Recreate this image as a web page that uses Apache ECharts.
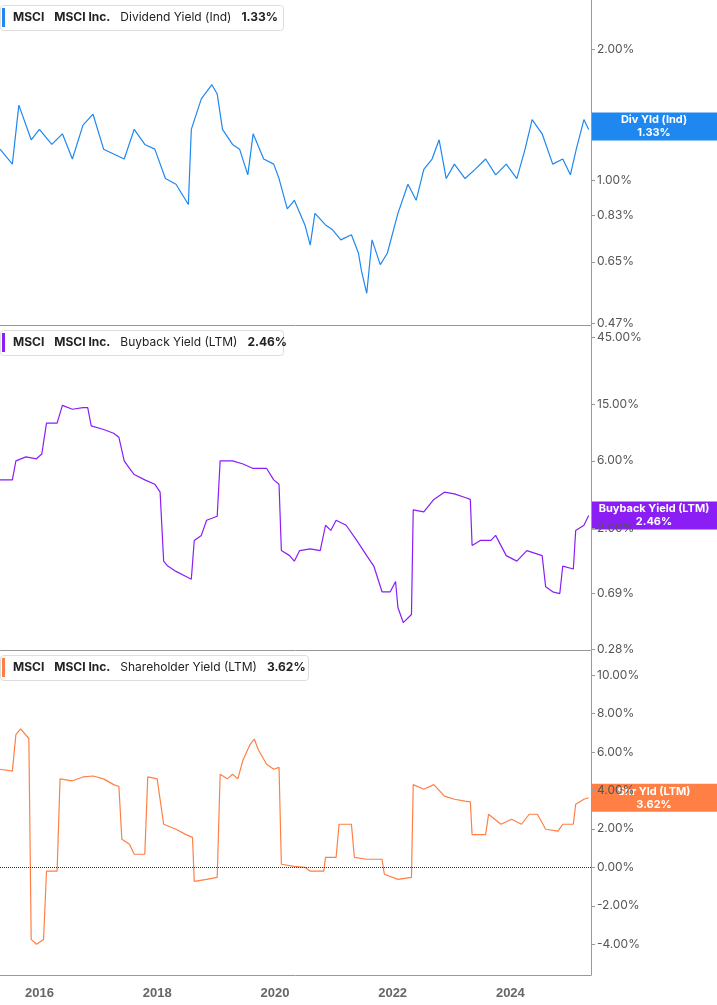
<!DOCTYPE html>
<html><head><meta charset="utf-8">
<script src="https://cdn.jsdelivr.net/npm/echarts@6/dist/echarts.min.js"></script>
<style>html,body{margin:0;padding:0;background:#fff}#c{width:717px;height:1005px}</style>
</head><body><div id="c"></div>
<script>
// decimal years
const divX=[2015.33,2015.54,2015.65,2015.86,2016.0,2016.21,2016.39,2016.56,2016.74,2016.91,2017.09,2017.26,2017.44,2017.61,2017.79,2017.96,2018.14,2018.32,2018.53,2018.58,2018.75,2018.93,2019.02,2019.11,2019.28,2019.40,2019.54,2019.63,2019.81,2019.98,2020.07,2020.21,2020.33,2020.51,2020.60,2020.68,2020.86,2020.98,2021.12,2021.30,2021.42,2021.47,2021.56,2021.65,2021.79,2021.91,2022.09,2022.26,2022.40,2022.53,2022.67,2022.79,2022.91,2023.05,2023.23,2023.40,2023.58,2023.75,2023.93,2024.11,2024.25,2024.37,2024.54,2024.72,2024.89,2025.02,2025.12,2025.25,2025.33];
const divY=[1.18,1.09,1.49,1.24,1.31,1.21,1.28,1.12,1.34,1.42,1.18,1.15,1.12,1.31,1.21,1.18,1.01,0.98,0.88,1.31,1.54,1.66,1.58,1.31,1.21,1.18,1.03,1.28,1.12,1.09,1.01,0.86,0.90,0.79,0.71,0.84,0.79,0.77,0.73,0.75,0.68,0.62,0.55,0.73,0.64,0.68,0.84,0.98,0.90,1.06,1.12,1.24,1.01,1.09,1.01,1.06,1.12,1.03,1.09,1.01,1.18,1.38,1.28,1.09,1.12,1.03,1.18,1.38,1.31];
const bbX=[2015.33,2015.54,2015.60,2015.77,2015.95,2016.04,2016.12,2016.30,2016.39,2016.56,2016.74,2016.82,2016.88,2017.09,2017.26,2017.35,2017.44,2017.53,2017.61,2017.79,2017.96,2018.05,2018.11,2018.18,2018.32,2018.49,2018.58,2018.63,2018.75,2018.84,2019.02,2019.07,2019.28,2019.46,2019.63,2019.86,2019.98,2020.07,2020.11,2020.25,2020.33,2020.42,2020.60,2020.77,2020.86,2020.95,2021.04,2021.21,2021.39,2021.56,2021.68,2021.82,2021.96,2022.05,2022.09,2022.18,2022.32,2022.35,2022.53,2022.70,2022.88,2023.05,2023.23,2023.32,2023.35,2023.49,2023.67,2023.75,2023.93,2024.11,2024.28,2024.54,2024.60,2024.72,2024.84,2024.89,2025.07,2025.11,2025.25,2025.33];
const bbY=[4.4,4.4,6.0,6.4,6.2,6.7,11.1,11.1,14.8,13.9,14.3,14.3,10.6,10.0,9.4,8.8,6.0,5.3,4.8,4.4,4.1,3.6,1.17,1.08,0.99,0.91,0.87,1.64,1.78,2.28,2.43,6.0,6.0,5.7,5.3,5.3,4.4,4.1,1.39,1.28,1.17,1.39,1.43,1.39,2.10,1.93,2.28,2.10,1.64,1.28,1.08,0.71,0.71,0.84,0.55,0.43,0.49,2.70,2.61,3.2,3.6,3.5,3.3,3.2,1.51,1.64,1.64,1.78,1.28,1.17,1.39,1.28,0.77,0.71,0.69,1.08,1.03,1.93,2.10,2.46];
const shX=[2015.33,2015.54,2015.60,2015.68,2015.82,2015.86,2015.95,2016.07,2016.12,2016.30,2016.35,2016.56,2016.74,2016.91,2017.09,2017.26,2017.35,2017.40,2017.53,2017.61,2017.79,2017.84,2018.00,2018.11,2018.32,2018.49,2018.60,2018.63,2018.84,2019.02,2019.07,2019.19,2019.28,2019.37,2019.46,2019.58,2019.65,2019.72,2019.86,2019.98,2020.07,2020.11,2020.33,2020.51,2020.60,2020.83,2020.86,2021.04,2021.09,2021.30,2021.35,2021.56,2021.82,2021.86,2022.09,2022.32,2022.35,2022.53,2022.70,2022.88,2023.05,2023.23,2023.32,2023.35,2023.58,2023.63,2023.84,2024.02,2024.19,2024.32,2024.46,2024.60,2024.81,2024.89,2025.07,2025.11,2025.25,2025.33];
const shY=[5.1,5.0,6.9,7.2,6.7,-3.75,-4.0,-3.75,-0.2,-0.2,4.6,4.5,4.7,4.75,4.6,4.3,4.2,1.46,1.2,0.68,0.68,4.7,4.6,2.24,1.98,1.7,1.56,-0.73,-0.63,-0.52,4.84,4.6,4.84,4.6,5.6,6.4,6.67,6.1,5.36,5.1,5.2,0.16,0.05,0.0,-0.2,-0.2,0.52,0.52,2.24,2.24,0.52,0.42,0.42,-0.36,-0.63,-0.52,4.3,4.06,4.3,3.7,3.54,3.44,3.4,1.7,1.7,2.76,2.24,2.5,2.24,2.76,2.76,1.98,1.88,2.24,2.24,3.28,3.54,3.62];
const years=[2016,2018,2020,2022,2024];
const divTicks=[0.47,0.65,0.83,1.00,2.00];
const bbTicks=[0.28,0.69,2.00,6.00,15.00,45.00];
const shTicks=[-4,-2,0,2,4,6,8,10];

const C1='#1e88f0',C2='#8a1ef5',C3='#ff7f45';
const L=Math.log10;
const zip=(xs,ys,f)=>xs.map((x,i)=>[x,f?f(ys[i]):ys[i]]);
const lab={color:'#555',fontSize:12,fontFamily:'Inter, sans-serif'};
function xa(i,show){return {type:'value',gridIndex:i,min:2015.33,max:2025.37,splitLine:{show:false},
 axisLine:{show:true,onZero:false,lineStyle:{color:'#999'}},axisTick:{show:false},
 axisLabel:{show:show,customValues:years,color:'#666',fontWeight:'bold',fontSize:13,margin:12,formatter:v=>String(Math.round(v))}};}
function ya(i,min,max,ticks,log,fmt){return {type:'value',gridIndex:i,position:'right',min:min,max:max,
 axisLine:{show:true,onZero:false,lineStyle:{color:'#999'}},splitLine:{show:false},
 axisTick:{show:true,customValues:ticks.map(t=>log?L(t):t),length:4,lineStyle:{color:'#999'}},
 axisLabel:Object.assign({customValues:ticks.map(t=>log?L(t):t),margin:6,formatter:fmt},lab)};}
const chart=echarts.init(document.getElementById('c'));
chart.setOption({animation:false,
 grid:[{left:0,right:126,top:0,height:325},{left:0,right:126,top:326,height:324},{left:0,right:126,top:651,height:324}],
 xAxis:[xa(0,false),xa(1,false),xa(2,true)],
 yAxis:[ya(0,L(0.465),L(2.6),divTicks,true,v=>Math.pow(10,v).toFixed(2)+'%'),
        ya(1,L(0.275),L(54),bbTicks,true,v=>Math.pow(10,v).toFixed(2)+'%'),
        ya(2,-5.6,11.25,shTicks,false,v=>v.toFixed(2)+'%')],
 series:[
  {type:'line',xAxisIndex:0,yAxisIndex:0,data:zip(divX,divY,L),showSymbol:false,lineStyle:{color:C1,width:1.2}},
  {type:'line',xAxisIndex:1,yAxisIndex:1,data:zip(bbX,bbY,L),showSymbol:false,lineStyle:{color:C2,width:1.2}},
  {type:'line',xAxisIndex:2,yAxisIndex:2,data:zip(shX,shY),showSymbol:false,lineStyle:{color:C3,width:1.2},
   markLine:{symbol:'none',silent:true,label:{show:false},lineStyle:{color:'#333',type:'dotted',width:1},data:[{yAxis:0}]}}
 ]});
const panels=[
 {g:0,c:C1,name:'Dividend Yield (Ind)',val:'1.33%',tag:'Div Yld (Ind)',v:L(1.33),top:5,w:283},
 {g:1,c:C2,name:'Buyback Yield (LTM)',val:'2.46%',tag:'Buyback Yield (LTM)',v:L(2.46),top:330,w:283},
 {g:2,c:C3,name:'Shareholder Yield (LTM)',val:'3.62%',tag:'Shr Yld (LTM)',v:3.62,top:655,w:308}];
const gr=[];
panels.forEach(p=>{
 gr.push({type:'rect',left:0,top:p.top,shape:{width:p.w,height:25,r:3},style:{fill:'#fff',stroke:'#ddd'}});
 gr.push({type:'rect',left:2,top:p.top+3,shape:{width:3,height:19},style:{fill:p.c}});
 gr.push({type:'text',left:13,top:p.top+6,style:{text:'{b|MSCI}   {b|MSCI Inc.}   {n|'+p.name+'}   {b|'+p.val+'}',
  rich:{b:{fontWeight:'bold',fontSize:12,fill:'#222',fontFamily:'Inter, sans-serif'},n:{fontSize:12,fill:'#222',fontFamily:'Inter, sans-serif'}}}});
 const y=chart.convertToPixel({gridIndex:p.g},[2020,p.v])[1];
 gr.push({type:'rect',left:591,top:y-14,shape:{width:126,height:28},style:{fill:p.c}});
 gr.push({type:'text',x:591+63,y:y-13,style:{text:p.tag+'\n'+p.val,x:0,y:0,align:'center',verticalAlign:'top',fill:'#fff',fontWeight:'bold',fontSize:11,lineHeight:13,fontFamily:'Inter, sans-serif'}});
});
chart.setOption({graphic:gr});
</script></body></html>
